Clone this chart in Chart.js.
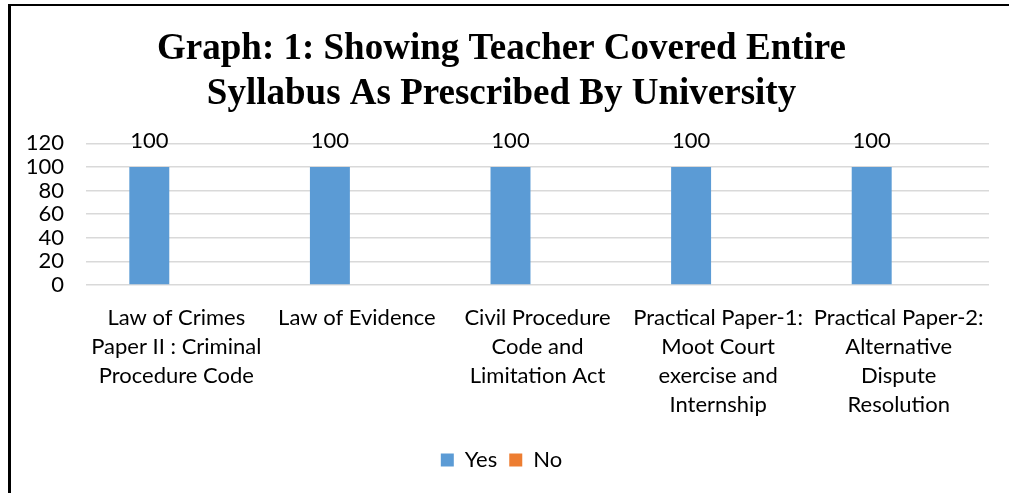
<!DOCTYPE html>
<html>
<head>
<meta charset="utf-8">
<script src="https://cdn.jsdelivr.net/npm/chart.js@4.4.0/dist/chart.umd.min.js"></script>
<style>
  html, body { margin: 0; padding: 0; background: #fff; }
  #wrap { position: relative; width: 1009px; height: 493px; overflow: hidden; }
  #c { position: absolute; left: 0; top: 0; }
  #frameTop { position: absolute; left: 8px; top: 4px; width: 1001px; height: 2px; background: #000; }
  #frameLeft { position: absolute; left: 8px; top: 4px; width: 3px; height: 489px; background: #000; }
</style>
</head>
<body>
<div id="wrap">
  <canvas id="c" width="1009" height="493"></canvas>
  <div id="frameTop"></div>
  <div id="frameLeft"></div>
</div>
<script>
const titleLines = ["Graph: 1: Showing Teacher Covered Entire", "Syllabus As Prescribed By University"];
const categories = [
  ["Law of Crimes", "Paper II : Criminal", "Procedure Code"],
  ["Law of Evidence"],
  ["Civil Procedure", "Code and", "Limitation Act"],
  ["Practical Paper-1:", "Moot Court", "exercise and", "Internship"],
  ["Practical Paper-2:", "Alternative", "Dispute", "Resolution"]
];
const yesValues = [100, 100, 100, 100, 100];
const noValues = [0, 0, 0, 0, 0];
const yTicks = [0, 20, 40, 60, 80, 100, 120];

const FONT = "Lato, 'Open Sans', sans-serif";

const dataLabels = {
  id: 'dataLabels',
  afterDatasetsDraw(chart) {
    const ctx = chart.ctx;
    const meta = chart.getDatasetMeta(0);
    ctx.save();
    ctx.font = "22px " + FONT;
    ctx.fillStyle = "#000";
    ctx.textAlign = "center";
    ctx.textBaseline = "middle";
    meta.data.forEach((bar, i) => {
      ctx.fillText(String(yesValues[i]), bar.x, bar.y - 26);
    });
    ctx.restore();
  }
};

new Chart(document.getElementById('c'), {
  type: 'bar',
  data: {
    labels: categories,
    datasets: [
      { label: 'Yes', data: yesValues, backgroundColor: '#5B9BD5', borderWidth: 0,
        categoryPercentage: 0.598, barPercentage: 0.74 },
      { label: 'No', data: noValues, backgroundColor: '#ED7D31', borderWidth: 0,
        categoryPercentage: 0.598, barPercentage: 0.74 }
    ]
  },
  options: {
    responsive: false,
    animation: false,
    layout: { padding: { left: 14, right: 20, top: 0, bottom: 12 } },
    plugins: {
      title: {
        display: true,
        text: titleLines,
        color: '#000',
        font: { family: "'Liberation Serif', 'Times New Roman', serif", size: 37, weight: 'bold', lineHeight: 1.22 },
        padding: { top: 27, bottom: 26 }
      },
      legend: {
        position: 'bottom',
        labels: {
          color: '#000',
          font: { family: FONT, size: 22 },
          boxWidth: 13, boxHeight: 13,
          padding: 12
        }
      },
      tooltip: { enabled: false }
    },
    scales: {
      x: {
        grid: { display: false, drawTicks: false },
        border: { display: false },
        ticks: {
          color: '#000',
          font: { family: FONT, size: 22, lineHeight: 29 / 22 },
          maxRotation: 0, minRotation: 0, autoSkip: false,
          padding: 18
        }
      },
      y: {
        min: 0, max: 120,
        afterBuildTicks(scale) { scale.ticks = yTicks.map(v => ({ value: v })); },
        afterFit(scale) { scale.width = 72; },
        grid: { color: '#d9d9d9', lineWidth: 1.5, drawTicks: false },
        border: { display: false },
        ticks: {
          color: '#000',
          font: { family: FONT, size: 22 },
          autoSkip: false,
          padding: 22
        }
      }
    }
  },
  plugins: [dataLabels]
});
</script>
</body>
</html>
